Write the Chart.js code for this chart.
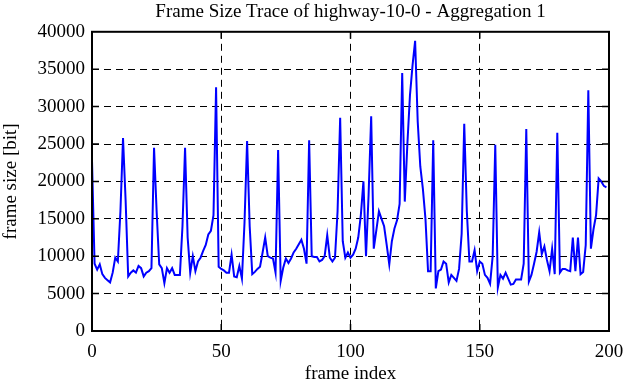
<!DOCTYPE html>
<html>
<head>
<meta charset="utf-8">
<script src="https://cdn.jsdelivr.net/npm/chart.js@4/dist/chart.umd.min.js"></script>
<style>
  html, body { margin: 0; padding: 0; background: #fff; }
  #box { width: 626px; height: 382px; }
</style>
</head>
<body>
<div id="box"><canvas id="traceChart" width="626" height="382"></canvas></div>
<script>
// frame sizes, one per frame
var frameSize = [
  22800, 9000, 8200, 8900, 7600, 7100, 6800, 6500, 7800, 9800,
  9300, 16000, 25800, 17500, 7300, 7800, 8100, 7800, 8700, 8400,
  7300, 7800, 8000, 8400, 24500, 16000, 8900, 8400, 6400, 8400,
  7800, 8400, 7500, 7500, 7500, 14000, 24500, 12500, 7800, 10000,
  8000, 9300, 9800, 10700, 11500, 12900, 13400, 15500, 32600, 8600,
  8300, 8100, 7800, 7800, 10200, 7300, 7200, 8700, 7000, 14500,
  25400, 14000, 7600, 7900, 8300, 8600, 10500, 12500, 10000, 9800,
  9700, 7800, 24200, 6700, 8500, 9700, 9100, 9700, 10500, 11000,
  11600, 12200, 11000, 9000, 25500, 10000, 9900, 9900, 9300, 9500,
  10000, 12800, 9800, 9300, 9800, 16000, 28500, 12000, 9800, 10500,
  9800, 10200, 11000, 12500, 15500, 20000, 10000, 18200, 28700, 11000,
  13500, 16000, 15000, 14000, 11500, 8900, 12000, 13700, 14800, 17000,
  34500, 17300, 25000, 31500, 35500, 38800, 28000, 22000, 19000, 15000,
  8000, 8000, 25500, 5700, 8000, 8200, 9300, 9000, 6500, 7500,
  7100, 6700, 8300, 13000, 27700, 16000, 9300, 9300, 10800, 8000,
  9300, 9000, 7500, 7100, 6300, 10000, 24900, 5800, 7500, 7000,
  7800, 7000, 6200, 6300, 6900, 6900, 6900, 9000, 27000, 6600,
  7500, 9000, 10600, 13200, 10300, 11300, 9500, 8000, 11000, 7600,
  26500, 7800, 8300, 8300, 8100, 8000, 12500, 8000, 12500, 7600,
  7900, 11500, 32200, 11000, 13600, 15500, 20400, 20000, 19400, 19200
];
var xTicks = [0, 50, 100, 150, 200];
var yTicks = [0, 5000, 10000, 15000, 20000, 25000, 30000, 35000, 40000];

var chartTitle = 'Frame Size Trace of highway-10-0 - Aggregation 1';
var xTitle = 'frame index';
var yTitle = 'frame size [bit]';

var serif = "'Liberation Serif', 'DejaVu Serif', serif";
var fontSize = 19;

// frame index -> size pairs
function getPoints() {
  var pts = [];
  for (var i = 0; i < frameSize.length; i++) {
    pts.push({ x: i, y: frameSize[i] });
  }
  return pts;
}

function setTicks(list) {
  return function (s) {
    s.ticks = list.map(function (v) { return { value: v }; });
  };
}

// gnuplot style frame with inward tick marks
var framePlugin = {
  id: 'gnuFrame',
  afterDraw: function (chart) {
    var ctx = chart.ctx;
    var a = chart.chartArea;
    var xs = chart.scales.x;
    var ys = chart.scales.y;
    var len = 7;
    ctx.save();
    ctx.strokeStyle = '#000';
    ctx.lineWidth = 1.5;
    ctx.beginPath();
    for (var i = 1; i < xTicks.length - 1; i++) {
      var px = xs.getPixelForValue(xTicks[i]);
      ctx.moveTo(px, a.bottom); ctx.lineTo(px, a.bottom - len);
      ctx.moveTo(px, a.top); ctx.lineTo(px, a.top + len);
    }
    for (var j = 1; j < yTicks.length - 1; j++) {
      var py = ys.getPixelForValue(yTicks[j]);
      ctx.moveTo(a.left, py); ctx.lineTo(a.left + len, py);
      ctx.moveTo(a.right, py); ctx.lineTo(a.right - len, py);
    }
    ctx.stroke();
    ctx.lineWidth = 2;
    ctx.strokeRect(a.left, a.top, a.right - a.left, a.bottom - a.top);
    ctx.restore();
  }
};

function initChart() {
  var ctx = document.getElementById('traceChart').getContext('2d');
  new Chart(ctx, {
    type: 'line',
    data: {
      datasets: [{
        data: getPoints(),
        borderColor: '#0000ff',
        borderWidth: 2,
        pointRadius: 0,
        tension: 0,
        fill: false
      }]
    },
    options: {
      responsive: false,
      animation: false,
      layout: { padding: { left: 0, right: 17, top: 0, bottom: 0 } },
      plugins: {
        legend: { display: false },
        tooltip: { enabled: false },
        title: {
          display: true,
          fullSize: false,
          text: chartTitle,
          color: '#000',
          font: { family: serif, size: fontSize, weight: 'normal', lineHeight: 1.2 },
          padding: { top: 1, bottom: 8 }
        }
      },
      scales: {
        x: {
          type: 'linear',
          min: 0,
          max: 200,
          afterBuildTicks: setTicks(xTicks),
          afterFit: function (s) { s.height = 51; s.paddingLeft = 0; s.paddingRight = 0; },
          grid: { color: '#000', lineWidth: 1, drawTicks: false },
          border: { display: false, dash: [7, 5] },
          ticks: {
            color: '#000',
            padding: 10,
            maxRotation: 0,
            font: { family: serif, size: fontSize },
            callback: function (v) { return String(v); }
          },
          title: {
            display: true,
            text: xTitle,
            color: '#000',
            font: { family: serif, size: fontSize, lineHeight: 1 },
            padding: { top: 0, bottom: -2 }
          }
        },
        y: {
          min: 0,
          max: 40000,
          afterBuildTicks: setTicks(yTicks),
          afterFit: function (s) { s.width = 92; s.paddingTop = 0; s.paddingBottom = 0; },
          grid: { color: '#000', lineWidth: 1, drawTicks: false },
          border: { display: false, dash: [7, 5] },
          ticks: {
            color: '#000',
            padding: 7,
            font: { family: serif, size: fontSize },
            callback: function (v) { return String(v); }
          },
          title: {
            display: true,
            text: yTitle,
            color: '#000',
            font: { family: serif, size: fontSize, lineHeight: 1 },
            padding: { top: 2, bottom: 0 }
          }
        }
      }
    },
    plugins: [framePlugin]
  });
}

initChart();
</script>
</body>
</html>
